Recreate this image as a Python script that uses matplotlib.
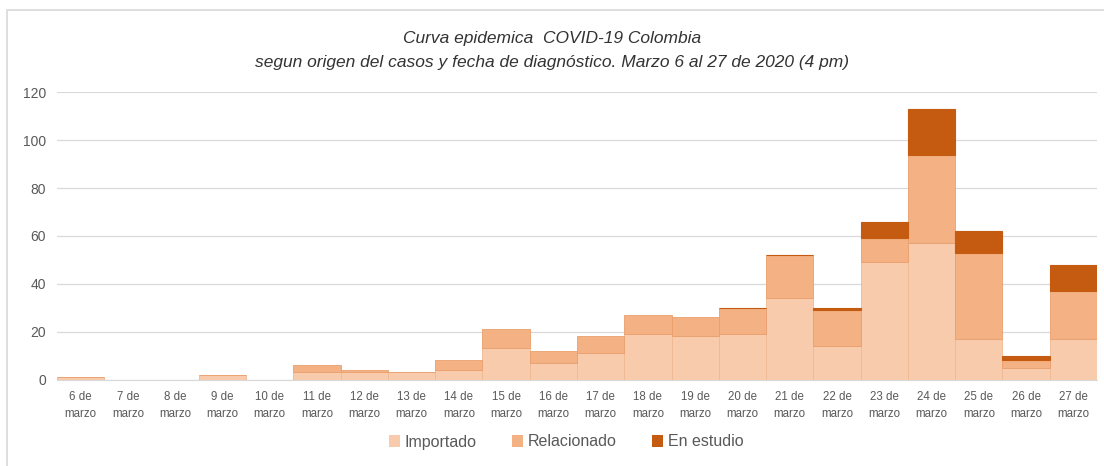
import numpy as np
import matplotlib.pyplot as plt
from matplotlib.patches import Rectangle, Patch

# Casos diarios por origen (Colombia, 6-27 de marzo 2020)
dias = list(range(6, 28))
etiquetas = [f'{d} de\nmarzo' for d in dias]
importado = [1, 0, 0, 2, 0, 3, 3, 3, 4, 13, 7, 11, 19, 18, 19, 34, 14, 49, 57, 17, 5, 17]
relacionado = [0, 0, 0, 0, 0, 3, 1, 0, 4, 8, 5, 7, 8, 8, 11, 18, 15, 10, 37, 36, 3, 20]
# None = celda vacia en la hoja original
en_estudio = [None] * 14 + [0, 0, 1, 7, 19, 9, 2, 11]

c_imp, c_rel, c_est = '#f8cbad', '#f4b183', '#c55a11'
gris = '#595959'

plt.rcParams['font.family'] = ['Liberation Sans', 'DejaVu Sans']

fig = plt.figure(figsize=(11.04, 4.66), dpi=100)
ax = fig.add_axes([57 / 1104, 86.5 / 466, 1040 / 1104, 287.2 / 466])

x = np.arange(len(dias))
imp = np.array(importado, dtype=float)
rel = np.array(relacionado, dtype=float)
est = np.array([np.nan if v is None else v for v in en_estudio], dtype=float)

ax.bar(x, imp, width=1.0, color=c_imp, edgecolor='#efb892', linewidth=0.6, zorder=2)
ax.bar(x, rel, width=1.0, bottom=imp, color=c_rel, edgecolor='#e99f6e', linewidth=0.6, zorder=2)
ax.bar(x, est, width=1.0, bottom=imp + rel, color=c_est, edgecolor=c_est, linewidth=0.8, zorder=3)

ax.set_xlim(-0.5, len(dias) - 0.5)
ax.set_ylim(0, 120)
ax.set_yticks(range(0, 121, 20))
ax.set_xticks(x)
ax.set_xticklabels(etiquetas, fontsize=8.3, color=gris, linespacing=1.6)
ax.tick_params(axis='y', length=0, labelsize=10, labelcolor=gris, pad=8)
ax.tick_params(axis='x', length=0, pad=8)
ax.grid(axis='y', color='#d9d9d9', linewidth=0.9, zorder=0)
for s in ['top', 'right', 'left']:
    ax.spines[s].set_visible(False)
ax.spines['bottom'].set_color('#d9d9d9')
ax.spines['bottom'].set_zorder(1)

fig.text(0.5, 1 - 38 / 466, 'Curva epidemica  COVID-19 Colombia', ha='center', va='center',
         fontsize=12.5, style='italic', color='#333333')
fig.text(0.5, 1 - 62 / 466,
         'segun origen del casos y fecha de diagnóstico. Marzo 6 al 27 de 2020 (4 pm)',
         ha='center', va='center', fontsize=12.5, style='italic', color='#333333')

handles = [Patch(facecolor=c_imp), Patch(facecolor=c_rel), Patch(facecolor=c_est)]
fig.legend(handles, ['Importado', 'Relacionado', 'En estudio'], loc='center',
           bbox_to_anchor=(566 / 1104, 1 - 442 / 466), ncol=3, frameon=False,
           fontsize=11.5, labelcolor=gris, handlelength=0.7, handleheight=0.7,
           handletextpad=0.3, columnspacing=2.2)

fig.patches.append(Rectangle((7 / 1104, -0.1), 1.2, 1 - 10 / 466 + 0.1,
                             transform=fig.transFigure, fill=False,
                             edgecolor='#d9d9d9', linewidth=1.2))

fig.savefig('out.png', dpi=100)
